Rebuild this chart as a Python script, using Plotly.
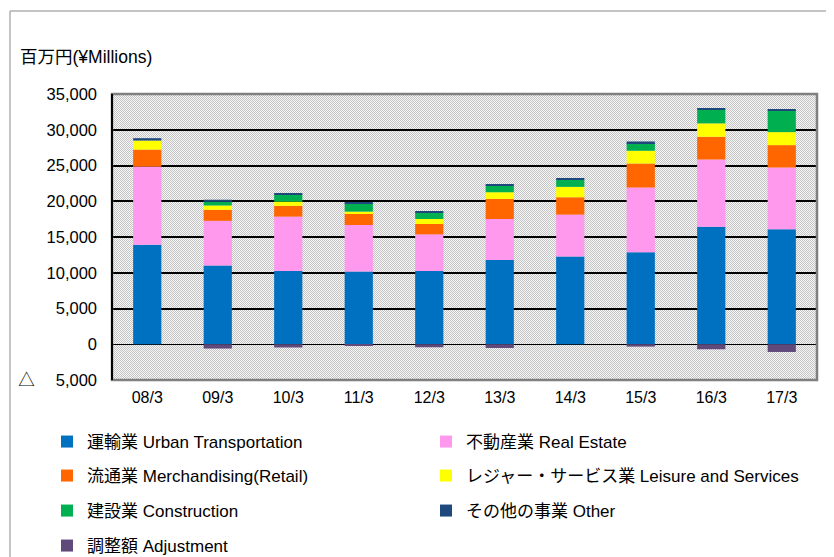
import base64
import plotly.graph_objects as go

categories = ["08/3", "09/3", "10/3", "11/3", "12/3", "13/3", "14/3", "15/3", "16/3", "17/3"]

urban_transportation = [13900, 11000, 10230, 10190, 10230, 11780, 12290, 12850, 16450, 16080]
real_estate          = [10950, 6260, 7620, 6490, 5140, 5740, 5840, 9070, 9390, 8640]
merchandising        = [2380, 1550, 1500, 1640, 1450, 2810, 2430, 3360, 3180, 3130]
leisure_services     = [1260, 600, 600, 230, 700, 930, 1450, 1780, 1870, 1820]
construction         = [0, 520, 940, 1170, 890, 940, 980, 1070, 1910, 3040]
other                = [330, 280, 230, 140, 190, 190, 140, 230, 140, 140]
adjustment           = [0, -600, -450, -230, -420, -520, 0, -330, -700, -1080]

series_names = [
    "運輸業 Urban Transportation",
    "不動産業 Real Estate",
    "流通業 Merchandising(Retail)",
    "レジャー・サービス業 Leisure and Services",
    "建設業 Construction",
    "その他の事業 Other",
    "調整額 Adjustment",
]
series_values = [urban_transportation, real_estate, merchandising, leisure_services,
                 construction, other, adjustment]
series_colors = ["#0070C0", "#FF99EE", "#FF6600", "#FFFF00", "#00B050", "#1F497D", "#604A7B"]
series_legends = ["legend", "legend", "legend2", "legend2", "legend3", "legend3", "legend4"]

y_tickvals = [-5000, 0, 5000, 10000, 15000, 20000, 25000, 30000, 35000]
y_ticktext = ["△\u3000 5,000", "0", "5,000", "10,000", "15,000", "20,000", "25,000", "30,000", "35,000"]

FONT = "Liberation Sans, Arial, Noto Sans CJK JP, sans-serif"

fig = go.Figure()
for name, vals, col, lg in zip(series_names, series_values, series_colors, series_legends):
    fig.add_trace(go.Bar(
        x=categories, y=vals, name=name, marker=dict(color=col, line=dict(width=0)),
        legend=lg,
    ))

# page body has an 8px margin: target screen positions are shifted by OFF
OFF = 8
W, H = 834, 557
PL, PR, PT, PB = 112 - OFF, 817 - OFF, 94 - OFF, 380 - OFF   # plot area in figure px
L, R, T, B = PL, W - PR, PT, H - PB
pw, ph = PR - PL, PB - PT

# dotted background pattern
svg = ("<svg xmlns='http://www.w3.org/2000/svg' width='%d' height='%d'>"
       "<defs><pattern id='p' width='2' height='2' patternUnits='userSpaceOnUse'>"
       "<rect width='2' height='2' fill='#f6f6f6'/>"
       "<rect width='1' height='1' fill='#c4c4c4'/>"
       "<rect x='1' y='1' width='1' height='1' fill='#c4c4c4'/>"
       "</pattern></defs><rect width='%d' height='%d' fill='url(#p)'/></svg>") % (pw, ph, pw, ph)
src = "data:image/svg+xml;base64," + base64.b64encode(svg.encode()).decode()


def px(sx):
    """screen x -> paper x"""
    return (sx - OFF - PL) / pw


def py(sy):
    """screen y -> paper y"""
    return (PB - (sy - OFF)) / ph


legend_common = dict(orientation="h", entrywidth=334, entrywidthmode="pixels",
                     font=dict(family=FONT, size=17, color="#000000"),
                     bgcolor="rgba(0,0,0,0)", traceorder="normal",
                     xanchor="left", yanchor="middle", x=px(47))

fig.update_layout(
    width=W, height=H,
    margin=dict(l=L, r=R, t=T, b=B, pad=0, autoexpand=False),
    paper_bgcolor="#FFFFFF",
    plot_bgcolor="rgba(0,0,0,0)",
    barmode="relative",
    bargap=0.6,
    font=dict(family=FONT, size=16, color="#000000"),
    images=[dict(source=src, xref="paper", yref="paper", x=0, y=1, sizex=1, sizey=1,
                 sizing="stretch", layer="below", xanchor="left", yanchor="top")],
    xaxis=dict(type="category", showgrid=False, ticks="", showline=False, zeroline=False,
               tickfont=dict(family=FONT, size=16, color="#000000"), ticklabelstandoff=6),
    yaxis=dict(range=[-5000, 35000], tickvals=y_tickvals, ticktext=y_ticktext,
               showgrid=True, gridcolor="#000000", gridwidth=2,
               zeroline=True, zerolinecolor="#000000", zerolinewidth=1,
               showline=False, ticks="", ticklabelstandoff=14,
               tickfont=dict(family=FONT, size=16.5, color="#000000")),
    legend=dict(**legend_common, y=py(442)),
    legend2=dict(**legend_common, y=py(476)),
    legend3=dict(**legend_common, y=py(511)),
    legend4=dict(**legend_common, y=py(546)),
    annotations=[dict(text="百万円(¥Millions)", xref="paper", yref="paper",
                      x=px(18), y=py(57), xanchor="left", yanchor="middle",
                      showarrow=False, font=dict(family=FONT, size=17.5, color="#000000"))],
    shapes=[
        # outer frame lines
        dict(type="line", xref="paper", yref="paper", x0=px(10), x1=px(850), y0=py(11), y1=py(11),
             line=dict(color="#B0B0B0", width=1.5)),
        dict(type="line", xref="paper", yref="paper", x0=px(10), x1=px(10), y0=py(11), y1=py(575),
             line=dict(color="#B0B0B0", width=1.5)),
        # plot area border
        dict(type="rect", xref="paper", yref="paper", x0=0, x1=1, y0=0, y1=1,
             line=dict(color="#808080", width=2.5), layer="above"),
        dict(type="line", xref="paper", yref="paper", x0=0, x1=0, y0=0, y1=1,
             line=dict(color="#000000", width=2), layer="above"),
    ],
)

fig.write_html("out.html")
